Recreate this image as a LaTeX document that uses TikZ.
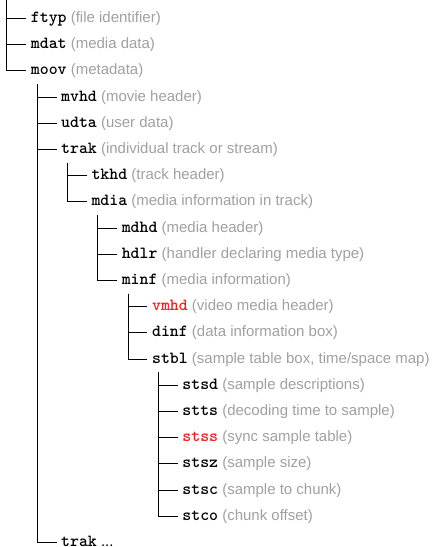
\documentclass[tikz,border=0pt]{standalone}
\usepackage{fontspec}
\setmainfont{Liberation Sans}
\definecolor{desc}{RGB}{160,160,160}
\definecolor{hot}{RGB}{240,30,30}
\newcommand{\boxname}[1]{{\ttfamily\bfseries\fontsize{17}{20}\selectfont #1}}
\tikzset{
  item/.style={anchor=west, inner sep=0pt, text height=12pt, text depth=4pt,
    font=\fontsize{15}{18}\selectfont},
  conn/.style={line width=0.9pt, line cap=butt},
}
\begin{document}
\begin{tikzpicture}[x=1pt,y=-1pt]
\useasboundingbox (0,0) rectangle (435,547);
\coordinate (root) at (6.7,-1);
% level 0
\node[item] (ftyp) at (30.7,18.5) {\boxname{ftyp}~{\color{desc}(file identifier)}};
\node[item] (mdat) at (30.7,44.7) {\boxname{mdat}~{\color{desc}(media data)}};
\node[item] (moov) at (30.7,70.9) {\boxname{moov}~{\color{desc}(metadata)}};
% level 1
\node[item] (mvhd) at (61.0,97.1) {\boxname{mvhd}~{\color{desc}(movie header)}};
\node[item] (udta) at (61.0,123.3) {\boxname{udta}~{\color{desc}(user data)}};
\node[item] (trak) at (61.0,149.5) {\boxname{trak}~{\color{desc}(individual track or stream)}};
% level 2
\node[item] (tkhd) at (91.3,175.7) {\boxname{tkhd}~{\color{desc}(track header)}};
\node[item] (mdia) at (91.3,201.9) {\boxname{mdia}~{\color{desc}(media information in track)}};
% level 3
\node[item] (mdhd) at (121.6,228.1) {\boxname{mdhd}~{\color{desc}(media header)}};
\node[item] (hdlr) at (121.6,254.3) {\boxname{hdlr}~{\color{desc}(handler declaring media type)}};
\node[item] (minf) at (121.6,280.5) {\boxname{minf}~{\color{desc}(media information)}};
% level 4
\node[item] (vmhd) at (151.9,306.7) {{\color{hot}\boxname{vmhd}}~{\color{desc}(video media header)}};
\node[item] (dinf) at (151.9,332.9) {\boxname{dinf}~{\color{desc}(data information box)}};
\node[item] (stbl) at (151.9,359.1) {\boxname{stbl}~{\color{desc}(sample table box, time/space map)}};
% level 5
\node[item] (stsd) at (182.2,385.3) {\boxname{stsd}~{\color{desc}(sample descriptions)}};
\node[item] (stts) at (182.2,411.5) {\boxname{stts}~{\color{desc}(decoding time to sample)}};
\node[item] (stss) at (182.2,437.7) {{\color{hot}\boxname{stss}}~{\color{desc}(sync sample table)}};
\node[item] (stsz) at (182.2,463.9) {\boxname{stsz}~{\color{desc}(sample size)}};
\node[item] (stsc) at (182.2,490.1) {\boxname{stsc}~{\color{desc}(sample to chunk)}};
\node[item] (stco) at (182.2,516.3) {\boxname{stco}~{\color{desc}(chunk offset)}};
% last
\node[item] (trak2) at (61.0,542.5) {\boxname{trak}~...};
% connectors
\foreach \c in {ftyp,mdat,moov}
  \draw[conn] (root) |- ([xshift=-4.5pt]\c.west);
\foreach \p/\c in {moov/mvhd,moov/udta,moov/trak,moov/trak2,
                   trak/tkhd,trak/mdia,
                   mdia/mdhd,mdia/hdlr,mdia/minf,
                   minf/vmhd,minf/dinf,minf/stbl,
                   stbl/stsd,stbl/stts,stbl/stss,stbl/stsz,stbl/stsc,stbl/stco}
  \draw[conn] ([xshift=6.5pt,yshift=-5pt]\p.south west) |- ([xshift=-4.5pt]\c.west);
\end{tikzpicture}
\end{document}
